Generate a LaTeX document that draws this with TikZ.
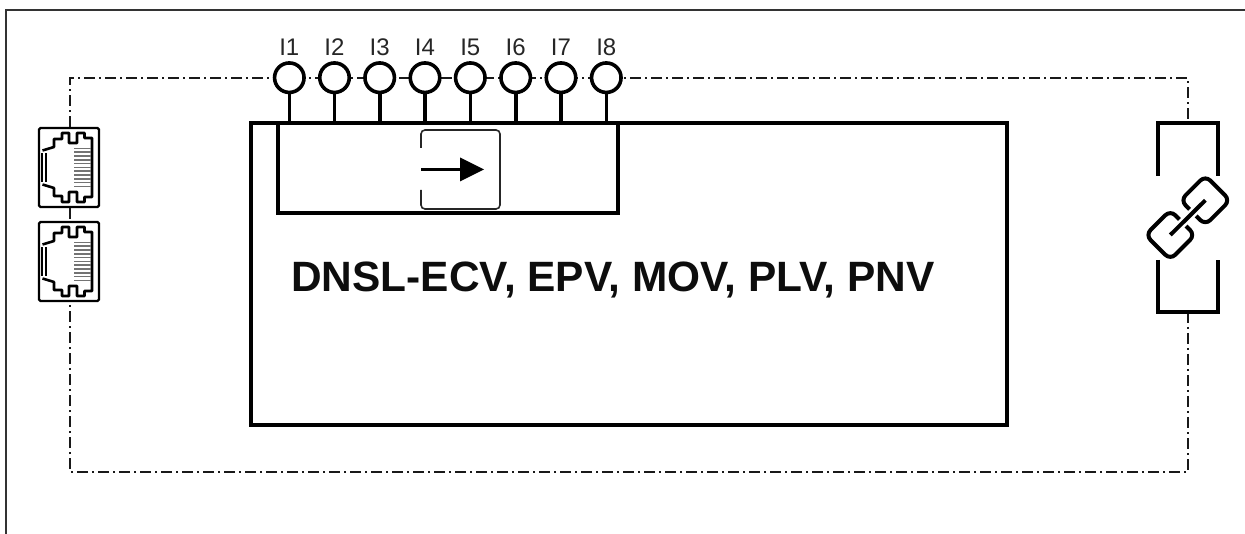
\documentclass[tikz,border=0pt]{standalone}
\usepackage{fontspec}
\setmainfont{Liberation Sans}
\usetikzlibrary{arrows.meta,calc}
\tikzset{
 heavy/.style={draw=black,line width=4pt},
 frame/.style={draw=black!80,line width=1.5pt},
 dd/.style={draw=black!90,line width=1.2pt,dash pattern=on 11pt off 4pt on 2pt off 4pt},
 port/.style={circle,draw=black,line width=3.6pt,fill=white,inner sep=0pt,minimum size=29.5pt},
 plabel/.style={font=\fontsize{24}{24}\selectfont,inner sep=0pt,text=black!85},
 jackbox/.style={rectangle,draw=black,line width=2.4pt,rounded corners=1.5pt,fill=white,minimum width=60pt,minimum height=79pt,inner sep=0pt},
 jackline/.style={draw=black,line width=2.6pt,line join=round},
 contact/.style={draw=black!55,line width=1.6pt},
 linkring/.style={draw=black,line width=4pt,rounded corners=7pt},
 swbox/.style={draw=black!85,line width=1.6pt,rounded corners=4pt},
}
\newcommand{\jackbody}[1]{%
 \begin{scope}[shift={(#1)}]
  \draw[jackline] (-26.5,-17) -- (-15,-20.5) -- (-15,-28.5) -- (-7,-28.5) -- (-7,-34.5) -- (0,-34.5) -- (0,-24.5) -- (8,-24.5) -- (8,-34.5) -- (15.5,-34.5) -- (15.5,-29.5) -- (23,-29.5) -- (23,29.5) -- (15.5,29.5) -- (15.5,34.5) -- (8,34.5) -- (8,24.5) -- (0,24.5) -- (0,34.5) -- (-7,34.5) -- (-7,28.5) -- (-15,28.5) -- (-15,20.5) -- (-26.5,17);
  \draw[draw=black,line width=2pt] (-27,-14) -- (-27,15);
  \draw[draw=black,line width=1.6pt] (-23,-14) -- (-23,15);
  \foreach \yy in {-19,-15.2,...,20}{\draw[contact] (5,\yy) -- (22,\yy);}
 \end{scope}}
\begin{document}
\begin{tikzpicture}[x=1pt,y=-1pt]
\useasboundingbox (0,0) rectangle (1245,534);
% outer frame
\coordinate (fbl) at (6,534);
\coordinate (ftl) at (6,10);
\coordinate (ftr) at (1245,10);
\draw[frame] (fbl) -- (ftl) -- (ftr);
% jacks
\node[jackbox] (j1) at (69,167.5) {};
\node[jackbox] (j2) at (69,261.5) {};
% main boxes
\coordinate (m1) at (251,123);
\coordinate (m2) at (1007,425);
\draw[heavy] (m1) rectangle (m2);
\coordinate (s1) at (277.5,123);
\coordinate (s2) at (618,213.5);
\draw[heavy] (s1) |- (s2) -- (s2 |- s1);
% dash-dot enclosure
\coordinate (tl) at (70,78);
\coordinate (tr) at (1188,78);
\coordinate (bl) at (70,472);
\coordinate (br) at (1188,472);
\coordinate (bt) at (1188,123);
\coordinate (bb) at (1188,312);
\draw[dd] (j1.north -| tl) -- (tl) -- (tr) -- (bt);
\draw[dd] (bb) -- (br) -- (bl) -- (j2.south -| bl);
\draw[dd] (j1.south -| tl) -- (j2.north -| tl);
% jack drawings
\jackbody{j1}
\jackbody{j2}
% ports
\foreach \n/\xx in {1/289.3,2/334.5,3/379.7,4/425,5/470.3,6/515.7,7/561,8/606.3}{
  \node[port] (p\n) at (\xx,77.7) {};
  \node[plabel,anchor=base] (l\n) at (\xx,56) {I\n};
  \coordinate (q\n) at (\xx,123);
  \draw[draw=black,line width=3.6pt] (p\n.south) -- (q\n);
}
% switch symbol
\coordinate (a0) at (421,148);
\coordinate (a1) at (421,190);
\coordinate (a2) at (421,169.5);
\coordinate (a3) at (484,169.5);
\draw[swbox] (a0) -- (421,130) -- (500,130) -- (500,209) -- (421,209) -- (a1);
\draw[draw=black,line width=3.4pt] (a2) -- (461,169.5);
\fill[black] (a3) -- (460,157.5) -- (460,181.5) -- cycle;
% title
\node[font=\bfseries\fontsize{42.4}{42.4}\selectfont,anchor=base west,inner sep=0pt,text=black!95] (title) at (291,292) {DNSL-ECV, EPV, MOV, PLV, PNV};
% brackets
\draw[heavy] (1157.5,176) |- (bt) -| (1218,176);
\draw[heavy] (1157.5,260) |- (bb) -| (1218,260);
% chain link
\coordinate (c1) at (1170.3,235);
\coordinate (c2) at (1205.3,200.3);
\draw[linkring,rotate around={45:(c1)}] ($(c1)+(-17.5,-17.5)$) rectangle ($(c1)+(17.5,17.5)$);
\draw[linkring,rotate around={45:(c2)}] ($(c2)+(-17.5,-17.5)$) rectangle ($(c2)+(17.5,17.5)$);
\draw[draw=white,line width=9pt] (c1) -- (c2);
\draw[draw=black,line width=4pt] (c1) -- (c2);
\end{tikzpicture}
\end{document}
